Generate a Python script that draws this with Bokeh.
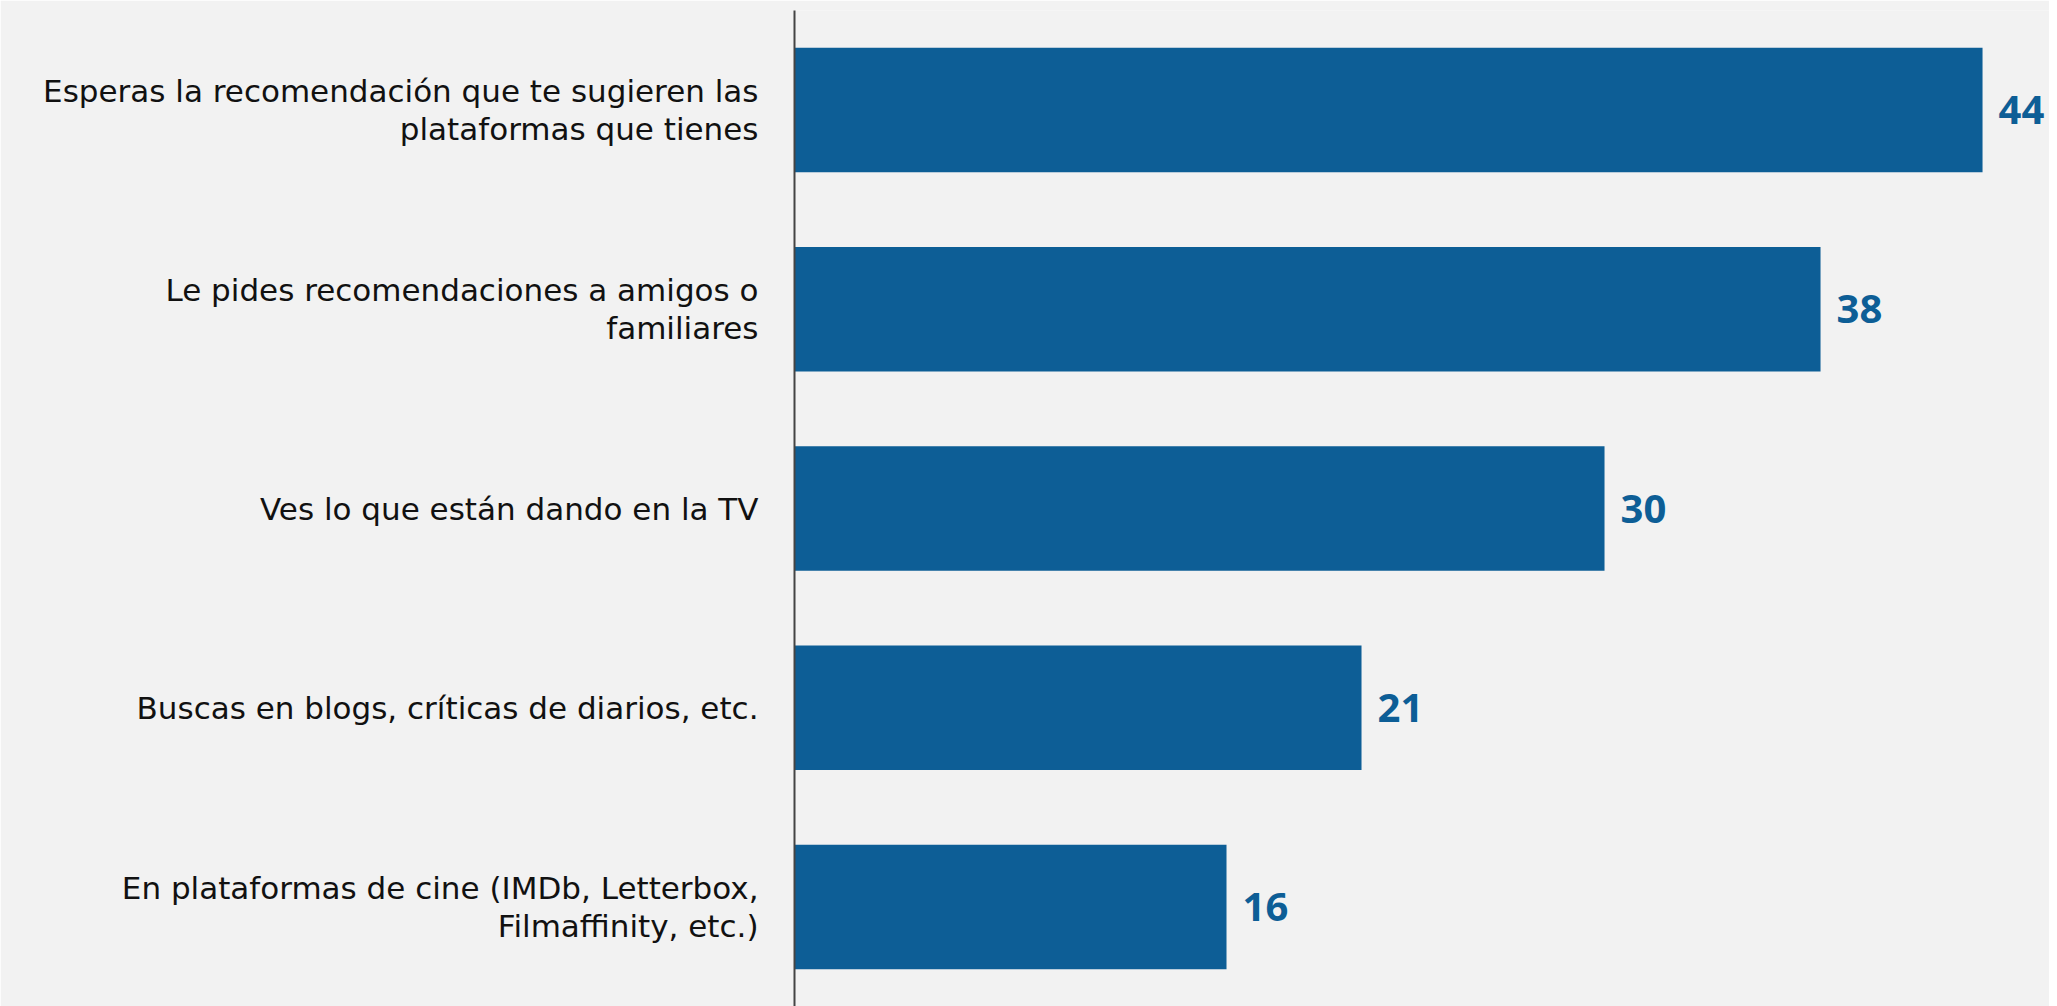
from bokeh.plotting import figure
from bokeh.models import ColumnDataSource, FactorRange
from bokeh.core.properties import value
from bokeh.embed import file_html
from bokeh.resources import INLINE

categories = [
    "Esperas la recomendación que te sugieren las\nplataformas que tienes",
    "Le pides recomendaciones a amigos o\nfamiliares",
    "Ves lo que están dando en la TV",
    "Buscas en blogs, críticas de diarios, etc.",
    "En plataformas de cine (IMDb, Letterbox,\nFilmaffinity, etc.)",
]
values = [44, 38, 30, 21, 16]
value_labels = [str(v) for v in values]

BG = "#f2f2f2"
BAR = "#0d5e96"

src = ColumnDataSource(dict(cat=categories, val=values, lab=value_labels))

p = figure(
    width=2049, height=1006,
    y_range=FactorRange(*list(reversed(categories)), range_padding=0),
    x_range=(0, 46.48),
    output_backend="svg", toolbar_location=None,
    background_fill_color=BG, border_fill_color=BG,
    min_border_left=794, min_border_right=0, min_border_top=10, min_border_bottom=0,
)
p.outline_line_color = None
p.grid.visible = False
p.xaxis.visible = False

p.hbar(y="cat", right="val", left=0, height=0.625, source=src,
       fill_color=BAR, line_color=None)

p.text(x="val", y="cat", text="lab", source=src, x_offset=16,
       text_align="left", text_baseline="middle",
       text_font=value("Open Sans"), text_font_style="bold",
       text_font_size="40px", text_color=BAR)

ax = p.yaxis[0]
ax.axis_line_color = "#444444"
ax.axis_line_width = 2
ax.major_tick_line_color = None
ax.minor_tick_line_color = None
ax.major_tick_out = 0
ax.major_label_standoff = 36
ax.major_label_text_font = "DejaVu Sans"
ax.major_label_text_font_size = "31px"
ax.major_label_text_color = "#111111"
ax.major_label_text_line_height = 1.06

html = file_html(p, INLINE)
html = html.replace("<body>", '<body style="background:%s">' % BG, 1)
open("out.html", "w").write(html)
